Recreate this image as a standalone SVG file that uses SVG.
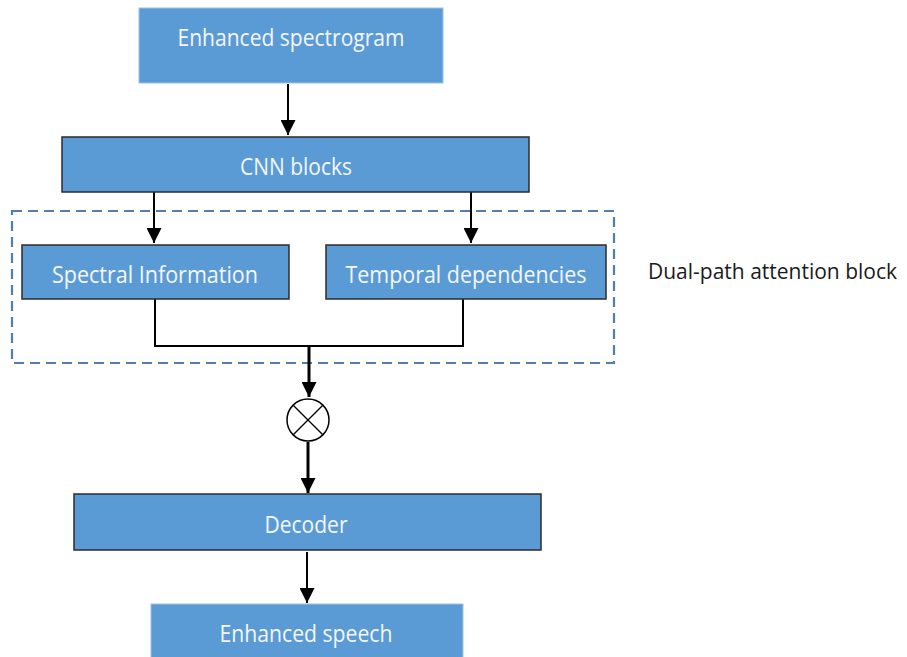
<svg xmlns="http://www.w3.org/2000/svg" width="907" height="657" viewBox="0 0 907 657">
<style>
.box{fill:#5B9BD5;stroke:#2b2b2b;stroke-width:1.5}
.soft{fill:#5B9BD5;stroke:#9cc2e6;stroke-width:1}
.lbl{font-family:"Open Sans","Liberation Sans",sans-serif;font-size:23px;fill:#F4F6F8;text-anchor:middle}
.side{font-family:"Open Sans","Liberation Sans",sans-serif;font-size:21px;fill:#1a1a1a}
.ln{fill:none;stroke:#000;stroke-width:2}
.thick{fill:none;stroke:#000;stroke-width:3}
.dash{fill:none;stroke:#4E7FAE;stroke-width:2.2;stroke-dasharray:10 6}
</style>
<defs>
<marker id="ah" viewBox="0 0 10 10" refX="10" refY="5" markerWidth="15" markerHeight="15" markerUnits="userSpaceOnUse" orient="auto">
<path d="M0,0 L10,5 L0,10 z" fill="#000"/>
</marker>
</defs>
<rect class="dash" x="12" y="211" width="602" height="152"/>
<g id="connectors">
<line class="ln" x1="288" y1="84" x2="288" y2="135" marker-end="url(#ah)"/>
<line class="ln" x1="154" y1="192" x2="154" y2="243" marker-end="url(#ah)"/>
<line class="ln" x1="471" y1="192" x2="471" y2="243" marker-end="url(#ah)"/>
<polyline class="ln" points="155,299 155,346 463,346 463,299"/>
<line class="thick" x1="309" y1="346" x2="309" y2="397" marker-end="url(#ah)"/>
<line class="thick" x1="308" y1="442" x2="308" y2="493" marker-end="url(#ah)"/>
<line class="ln" x1="307" y1="552" x2="307" y2="603" marker-end="url(#ah)"/>
</g>
<g id="n-spectrogram">
<rect class="soft" x="139" y="8" width="304" height="75"/>
<text class="lbl" x="291" y="46" textLength="227" lengthAdjust="spacingAndGlyphs">Enhanced spectrogram</text>
</g>
<g id="n-cnn">
<rect class="box" x="62" y="137" width="467" height="55"/>
<text class="lbl" x="296" y="175" textLength="112" lengthAdjust="spacingAndGlyphs">CNN blocks</text>
</g>
<g id="n-spectral">
<rect class="box" x="22" y="245" width="267" height="54"/>
<text class="lbl" x="155" y="283" textLength="206" lengthAdjust="spacingAndGlyphs">Spectral Information</text>
</g>
<g id="n-temporal">
<rect class="box" x="326" y="245" width="280" height="54"/>
<text class="lbl" x="466" y="283" textLength="241" lengthAdjust="spacingAndGlyphs">Temporal dependencies</text>
</g>
<g id="n-dualpath-label">
<text class="side" x="648" y="279" textLength="249" lengthAdjust="spacingAndGlyphs">Dual-path attention block</text>
</g>
<g id="n-multiply">
<circle cx="308" cy="420" r="21" fill="#fff" stroke="#000" stroke-width="1.5"/>
<line x1="293.2" y1="405.2" x2="322.8" y2="434.8" stroke="#000" stroke-width="1.3"/>
<line x1="322.8" y1="405.2" x2="293.2" y2="434.8" stroke="#000" stroke-width="1.3"/>
</g>
<g id="n-decoder">
<rect class="box" x="74" y="494" width="467" height="56"/>
<text class="lbl" x="306" y="533" textLength="83" lengthAdjust="spacingAndGlyphs">Decoder</text>
</g>
<g id="n-speech">
<rect class="soft" x="151" y="604" width="312" height="60"/>
<text class="lbl" x="306" y="642" textLength="173" lengthAdjust="spacingAndGlyphs">Enhanced speech</text>
</g>
</svg>
